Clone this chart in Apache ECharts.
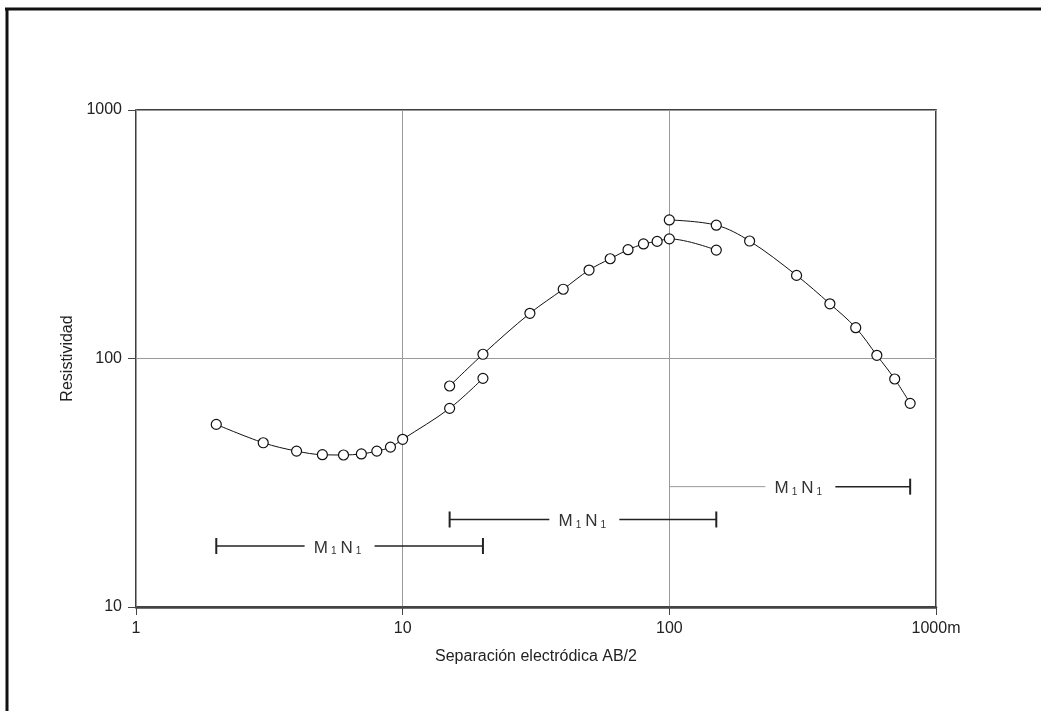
<!DOCTYPE html>
<html>
<head>
<meta charset="utf-8">
<script src="https://cdn.jsdelivr.net/npm/echarts@6/dist/echarts.min.js"></script>
<style>
html,body{margin:0;padding:0;background:#fff;}
#chart{width:1041px;height:711px;}
</style>
</head>
<body>
<div id="chart"></div>
<script>
// ---- data ----
var seg1X = [2, 3, 4, 5, 6, 7, 8, 9, 10, 15, 20];
var seg1Y = [54.3, 45.8, 42.4, 41.0, 40.9, 41.3, 42.4, 44.0, 47.3, 63, 83.2];
var seg2X = [15, 20, 30, 40, 50, 60, 70, 80, 90, 100, 150];
var seg2Y = [77.5, 104, 152, 190, 227, 252, 274, 289, 296, 303, 273];
var seg3X = [100, 150, 200, 300, 400, 500, 600, 700, 800];
var seg3Y = [361, 344, 297, 216, 166, 133, 103, 82.7, 66];

var barFrom = [2, 15, 100];
var barTo = [20, 150, 800];
var barLevel = [17.6, 22.5, 30.5];
var barLabelAt = [5.8, 48, 310];

var xTickLabels = {1: '1', 10: '10', 100: '100', 1000: '1000m'};
var yTickLabels = {10: '10', 100: '100', 1000: '1000'};

function pairs(xs, ys) { return xs.map(function (x, i) { return [x, ys[i]]; }); }
var barData = barFrom.map(function (f, i) { return [f, barTo[i], barLevel[i], barLabelAt[i]]; });

var chart = echarts.init(document.getElementById('chart'), null, {renderer: 'canvas'});
var FONT = 'Liberation Sans, Arial, sans-serif';

function lineSeries(data) {
  return {
    type: 'line',
    data: data,
    smooth: 0.35,
    symbol: 'circle',
    symbolSize: 10,
    showAllSymbol: true,
    lineStyle: {color: '#111', width: 1},
    itemStyle: {color: '#fff', borderColor: '#111', borderWidth: 1.2},
    z: 5,
    silent: true
  };
}

var option = {
  backgroundColor: '#fff',
  animation: false,
  grid: {left: 136, top: 110, right: 105, bottom: 104, show: true, borderColor: '#000', borderWidth: 1.5},
  graphic: [
    {type: 'line', shape: {x1: 5, y1: 9, x2: 1041, y2: 9}, style: {stroke: '#111', lineWidth: 3}},
    {type: 'line', shape: {x1: 7, y1: 8, x2: 7, y2: 711}, style: {stroke: '#111', lineWidth: 3}}
  ],
  xAxis: {
    type: 'log', logBase: 10, min: 1, max: 1000,
    name: 'Separación electródica AB/2', nameLocation: 'middle', nameGap: 42,
    nameTextStyle: {fontFamily: FONT, fontSize: 16, color: '#222'},
    axisLine: {lineStyle: {color: '#444', width: 2.5}},
    axisTick: {show: true, length: 8, lineStyle: {color: '#444', width: 1}},
    axisLabel: {fontFamily: FONT, fontSize: 16, color: '#222', margin: 14,
      formatter: function (v) { return xTickLabels[Math.round(v)] || ''; }},
    splitLine: {show: true, lineStyle: {color: '#999', width: 1}},
    minorTick: {show: false}
  },
  yAxis: {
    type: 'log', logBase: 10, min: 10, max: 1000,
    name: 'Resistividad', nameLocation: 'middle', nameGap: 60,
    nameTextStyle: {fontFamily: FONT, fontSize: 16, color: '#222'},
    axisLine: {lineStyle: {color: '#999', width: 1}},
    axisTick: {show: true, length: 8, lineStyle: {color: '#444', width: 1}},
    axisLabel: {fontFamily: FONT, fontSize: 16, color: '#222', margin: 14,
      formatter: function (v) { return yTickLabels[Math.round(v)] || ''; }},
    splitLine: {show: true, lineStyle: {color: '#999', width: 1}}
  },
  series: [
    lineSeries(pairs(seg1X, seg1Y)),
    lineSeries(pairs(seg2X, seg2Y)),
    lineSeries(pairs(seg3X, seg3Y)),
    {
      type: 'custom',
      data: barData,
      z: 4,
      silent: true,
      renderItem: function (params, api) {
        var i = params.dataIndex;
        var p1 = api.coord([api.value(0), api.value(2)]);
        var p2 = api.coord([api.value(1), api.value(2)]);
        var pc = api.coord([api.value(3), api.value(2)]);
        var gap = 35;
        var leftColor = (i === 2) ? '#999' : '#222';
        var leftWidth = (i === 2) ? 1 : 1.5;
        var children = [
          {type: 'line', shape: {x1: p1[0], y1: p1[1], x2: pc[0] - gap, y2: p1[1]},
            style: {stroke: leftColor, lineWidth: leftWidth}},
          {type: 'line', shape: {x1: pc[0] + gap, y1: p1[1], x2: p2[0], y2: p2[1]},
            style: {stroke: '#222', lineWidth: 1.5}},
          {type: 'line', shape: {x1: p2[0], y1: p2[1] - 8, x2: p2[0], y2: p2[1] + 8},
            style: {stroke: '#222', lineWidth: 2}},
          {type: 'text', x: pc[0], y: pc[1] + 2,
            style: {
              text: '{m|M}{s|1}{m|N}{s|1}',
              align: 'center', verticalAlign: 'middle',
              rich: {
                m: {fontFamily: FONT, fontSize: 17, fill: '#333', lineHeight: 17, verticalAlign: 'top'},
                s: {fontFamily: FONT, fontSize: 10, fill: '#333', lineHeight: 10, verticalAlign: 'bottom', padding: [11, 4, 0, 3]}
              }
            }}
        ];
        if (i !== 2) {
          children.push({type: 'line', shape: {x1: p1[0], y1: p1[1] - 8, x2: p1[0], y2: p1[1] + 8},
            style: {stroke: '#222', lineWidth: 2}});
        }
        return {type: 'group', children: children};
      }
    }
  ]
};
chart.setOption(option);
</script>
</body>
</html>
